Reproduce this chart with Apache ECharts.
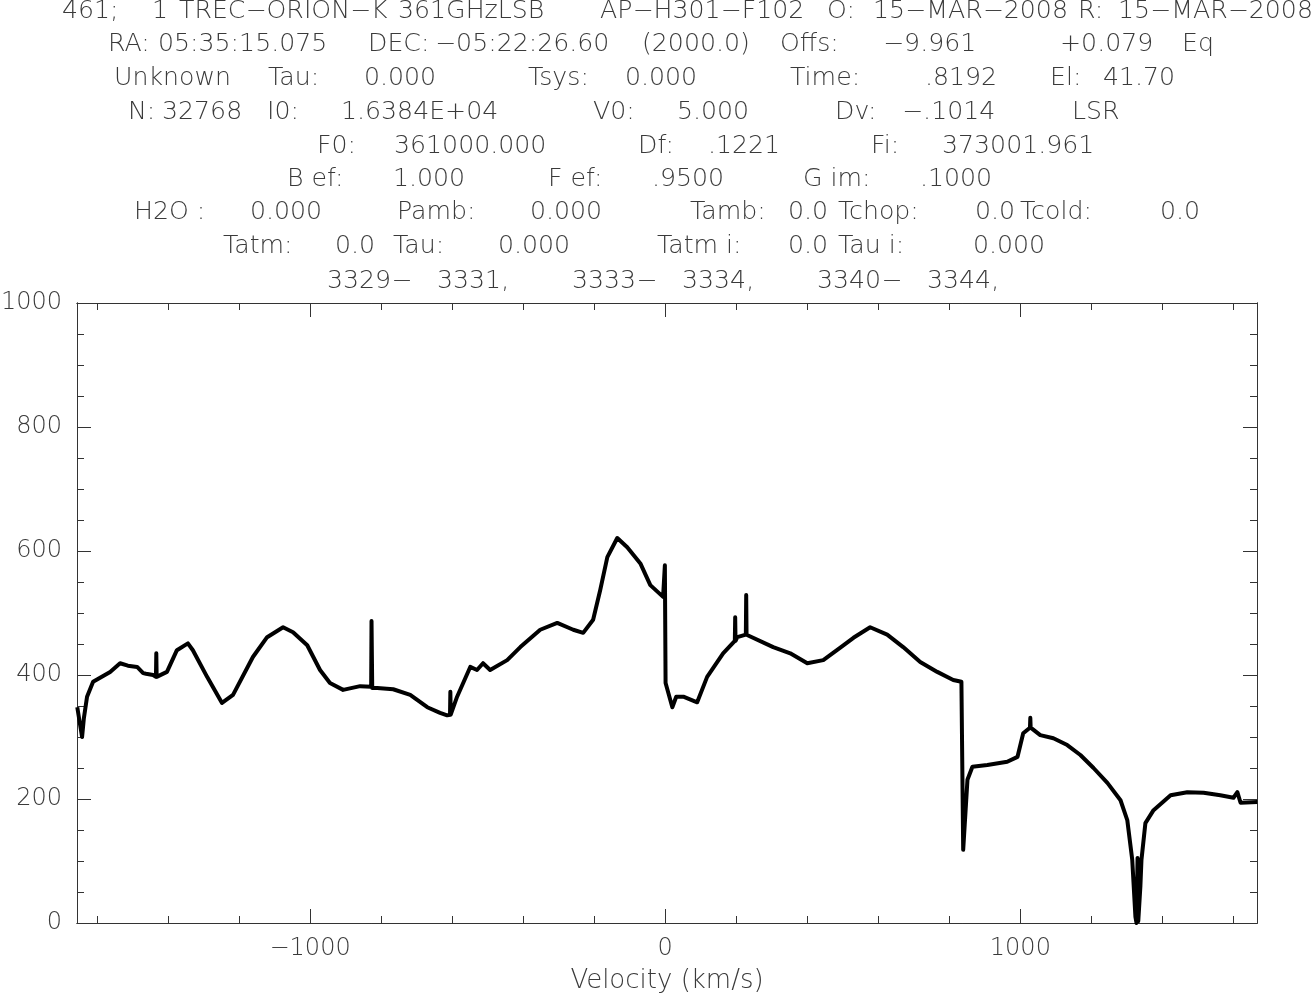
<!DOCTYPE html>
<html>
<head>
<meta charset="utf-8">
<script src="https://cdn.jsdelivr.net/npm/echarts@6/dist/echarts.min.js"></script>
<style>
html,body{margin:0;padding:0;background:#fff;}
#chart{width:1312px;height:996px;}
</style>
</head>
<body>
<div id="chart"></div>
<script>
// ---- data ----
const velocity = [
 -1655.5,-1642,-1637,-1628,-1611,-1563,-1535,-1513,-1487,-1470,-1462,-1442,-1434,-1433,-1432,
 -1403,-1375,-1344,-1330,-1290,-1248,-1217,-1161,-1121,-1076,-1048,-1008,-972,-944,-907,
 -859,-828,-827,-825,-811,-766,-718,-670,-634,-614,-606,-605,-604,-586,-549,-530,-513,-493,
 -445,-408,-352,-304,-259,-231,-203,-183,-163,-135,-107,-70,-42,-6,-3,-1,1,
 20,31,51,90,118,163,196,197,198,203,227,228,229,231,304,352,400,445,493,530,577,625,670,718,
 766,811,834,836,839,851,865,907,963,992,1008,1027,1028,1029,1056,1093,1132,1169,1206,1245,
 1282,1301,1315,1324,1327,1330,1332,1338,1341,1352,1375,1423,1470,1516,1563,1600,1611,1620,1667
];
const intensity = [
 348,300,330,365,389,405,419,415,413,403,402,400,397,435,397,
 405,440,451,440,397,355,368,429,461,477,469,448,408,387,376,
 382,381,487,379,379,377,368,348,339,335,336,373,336,365,413,408,419,408,
 424,445,473,484,473,468,489,537,590,621,606,580,545,526,527,577,387,
 348,365,365,356,397,435,455,493,455,461,465,529,465,468,445,435,419,424,444,460,477,465,445,421,
 405,392,389,389,118,231,252,255,260,268,306,315,331,315,303,298,287,271,250,226,
 198,166,102,10,0,105,3,60,102,161,182,206,211,210,206,202,211,194,195
];
const xMajorTicks = [-1000, 0, 1000];
const xMinorTicks = [-1600,-1400,-1200,-1000,-800,-600,-400,-200,0,200,400,600,800,1000,1200,1400,1600];
const xTitle = 'Velocity (km/s)';
const headerLines = [
 ['461;','1','TREC\u2212ORION\u2212K','361GHzLSB','AP\u2212H301\u2212F102','O:','15\u2212MAR\u22122008','R:','15\u2212MAR\u22122008'],
 ['RA:','05:35:15.075','DEC:','\u221205:22:26.60','(2000.0)','Offs:','\u22129.961','+0.079','Eq'],
 ['Unknown','Tau:','0.000','Tsys:','0.000','Time:','.8192','El:','41.70'],
 ['N:','32768','I0:','1.6384E+04','V0:','5.000','Dv:','\u2212.1014','LSR'],
 ['F0:','361000.000','Df:','.1221','Fi:','373001.961'],
 ['B ef:','1.000','F ef:','.9500','G im:','.1000'],
 ['H2O :','0.000','Pamb:','0.000','Tamb:','0.0','Tchop:','0.0','Tcold:','0.0'],
 ['Tatm:','0.0','Tau:','0.000','Tatm i:','0.0','Tau i:','0.000'],
 ['3329\u2212','3331,','3333\u2212','3334,','3340\u2212','3344,']
];
// ---- layout ----
const headerX = [
 [62,152,179,398,600,827,873,1078,1118],
 [108,158,368,435,642,780,883,1060,1182],
 [114,268,364,528,625,790,925,1050,1103],
 [128,162,267,341,593,677,835,902,1072],
 [317,394,638,708,871,942],
 [287,393,548,652,803,920],
 [134,250,397,530,690,788,838,975,1020,1160],
 [223,335,393,498,657,788,838,973],
 [327,437,572,682,817,927]
];
const headerY = [12,45,79,113,147,180,213,247,282];

const FONT = '"DejaVu Sans", sans-serif';
const TXT = '#3a3a3a';
const AX = '#333';
const VMIN = -1656.3, VMAX = 1666.3;

const graphics = [];
headerLines.forEach((line, li) => {
  line.forEach((s, si) => {
    graphics.push({
      type: 'text', x: headerX[li][si], y: headerY[li], scaleX: 1.05,
      style: { text: s, fill: TXT, font: '200 24px ' + FONT, textAlign: 'left', textVerticalAlign: 'middle', verticalAlign: 'middle' }
    });
  });
});

const minus = v => String(v).replace('-', '\u2212');
const lbl = { color: TXT, fontFamily: FONT, fontSize: 24, fontWeight: 200 };

function xAx(pos, ticks, len, showLabel) {
  return {
    type: 'value', position: pos, min: VMIN, max: VMAX,
    axisLine: { show: true, onZero: false, lineStyle: { color: AX, width: 1 } },
    axisTick: { show: true, inside: true, length: len, customValues: ticks, lineStyle: { color: AX } },
    axisLabel: showLabel ? Object.assign({ show: true, margin: 14, customValues: ticks, formatter: minus }, lbl) : { show: false },
    splitLine: { show: false },
    name: showLabel ? xTitle : '', nameLocation: 'middle', nameGap: 45,
    nameTextStyle: Object.assign({}, lbl, { fontSize: 26 })
  };
}
function yAx(pos, interval, len, showLabel) {
  return {
    type: 'value', position: pos, min: 0, max: 1000, interval: interval,
    axisLine: { show: true, onZero: false, lineStyle: { color: AX, width: 1 } },
    axisTick: { show: true, inside: true, length: len, lineStyle: { color: AX } },
    axisLabel: showLabel ? Object.assign({ show: true, margin: 15, formatter: v => String(v) }, lbl) : { show: false },
    splitLine: { show: false }
  };
}

const chart = echarts.init(document.getElementById('chart'), null, { renderer: 'canvas' });
chart.setOption({
  animation: false,
  backgroundColor: '#fff',
  grid: { left: 77, right: 55, top: 303, bottom: 73, containLabel: false, outerBoundsMode: 'none' },
  xAxis: [
    xAx('bottom', xMinorTicks, 7, false),
    xAx('bottom', xMajorTicks, 14, true),
    xAx('top', xMinorTicks, 7, false),
    xAx('top', xMajorTicks, 14, false)
  ],
  yAxis: [
    yAx('left', 50, 7, false),
    yAx('left', 200, 14, true),
    yAx('right', 50, 7, false),
    yAx('right', 200, 14, false)
  ],
  graphic: graphics,
  series: [{
    type: 'line', xAxisIndex: 0, yAxisIndex: 0,
    data: velocity.map((v, i) => [v, intensity[i]]),
    showSymbol: false, symbol: 'none', sampling: 'none',
    lineStyle: { color: '#000', width: 4, join: 'round' },
    clip: true
  }]
});
</script>
</body>
</html>
